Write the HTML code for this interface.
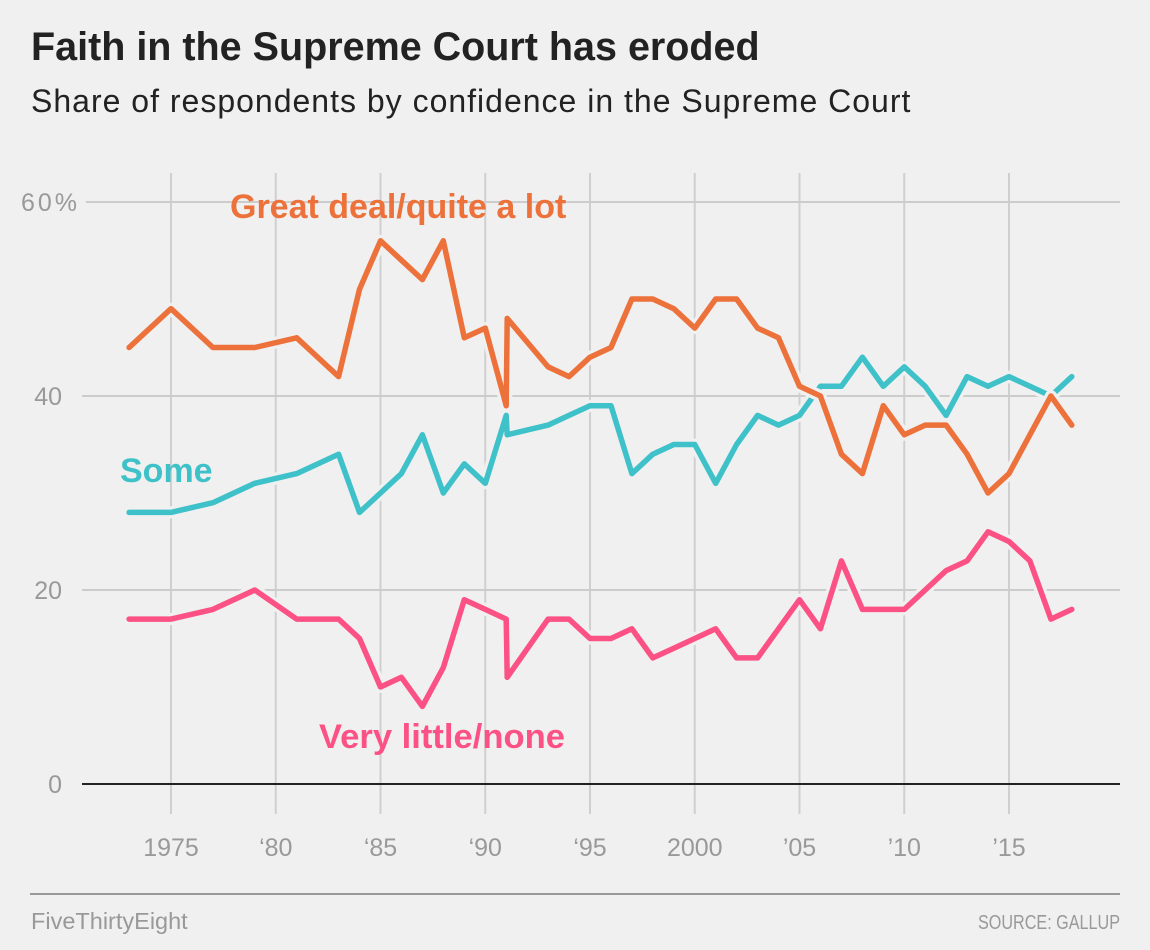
<!DOCTYPE html>
<html><head><meta charset="utf-8">
<style>
html,body{margin:0;padding:0;background:#f0f0f0;}
body{width:1150px;height:950px;position:relative;overflow:hidden;font-family:"Liberation Sans",sans-serif;}
.title{position:absolute;left:31px;top:25px;font-size:39.5px;font-weight:bold;color:#222;}
.sub{position:absolute;left:31px;top:83px;font-size:32px;letter-spacing:1px;color:#222;}
svg{position:absolute;left:0;top:0;}
.tick{font-family:"Liberation Sans Narrow","Liberation Sans",sans-serif;font-size:25px;fill:#999;}
</style></head><body>
<div class="title">Faith in the Supreme Court has eroded</div>
<div class="sub">Share of respondents by confidence in the Supreme Court</div>
<svg id="chart" width="1150" height="950"></svg>
<script>
const years=[1973,1975,1977,1979,1981,1983,1984,1985,1986,1987,1988,1989,1990,1991,1991.05,1993,1994,1995,1996,1997,1998,1999,2000,2001,2002,2003,2004,2005,2006,2007,2008,2009,2010,2011,2012,2013,2014,2015,2016,2017,2018];
const greatDeal=[45,49,45,45,46,42,51,56,54,52,56,46,47,39,48,43,42,44,45,50,50,49,47,50,50,47,46,41,40,34,32,39,36,37,37,34,30,32,36,40,37];
const some=[28,28,29,31,32,34,28,30,32,36,30,33,31,38,36,37,38,39,39,32,34,35,35,31,35,38,37,38,41,41,44,41,43,41,38,42,41,42,41,40,42];
const veryLittle=[17,17,18,20,17,17,15,10,11,8,12,19,18,17,11,17,17,15,15,16,13,14,15,16,13,13,16,19,16,23,18,18,18,20,22,23,26,25,23,17,18];
const yTicks=[0,20,40,60];
const yTickLabels=["0","20","40","60%"];
const xTicks=[1975,1980,1985,1990,1995,2000,2005,2010,2015];
const xTickLabels=["1975","\u201880","\u201885","\u201890","\u201895","2000","\u201905","\u201910","\u201915"];

const X=y=>171+(y-1975)*20.95;
const Y=v=>784-v*9.7;
const svg=document.getElementById('chart');
const NS='http://www.w3.org/2000/svg';
function mk(tag,attrs){const e=document.createElementNS(NS,tag);for(const k in attrs)e.setAttribute(k,attrs[k]);svg.appendChild(e);return e;}

xTicks.forEach((t,i)=>{
  const l=mk('line',{x1:X(t),x2:X(t),y1:173,y2:814,stroke:'#cfcfcf','stroke-width':2});
  
  
  const tx=mk('text',{x:X(t),y:856,'text-anchor':'middle',class:'tick'});
  tx.textContent=xTickLabels[i];
  
  
});
yTicks.forEach((t,i)=>{
  const l=mk('line',{x1:t===60?86:82,x2:1120,y1:Y(t),y2:Y(t),stroke:t===0?'#222':'#cccccc','stroke-width':2});
  
  
  const tx=mk('text',{x:t===60?80:62,y:Y(t)+9,'text-anchor':'end',class:'tick','letter-spacing':t===60?'3':'0'});
  tx.textContent=yTickLabels[i];
  
  
});
function series(vals,color,name){
  const d=vals.map((v,i)=>(i?'L':'M')+X(years[i]).toFixed(1)+' '+Y(v).toFixed(1)).join(' ');
  const h=mk('path',{d:d,fill:'none',stroke:'#f0f0f0','stroke-width':12,'stroke-linejoin':'round','stroke-linecap':'round'});
  
  
  const p=mk('path',{d:d,fill:'none',stroke:color,'stroke-width':5.5,'stroke-linejoin':'round','stroke-linecap':'round'});
  
  
}
series(veryLittle,'#fc5185','very-little');
series(some,'#3fc1c9','some');
series(greatDeal,'#ed713a','great-deal');

function label(txt,x,y,color,name){
  const t=mk('text',{x:x,y:y,fill:color,'font-size':34,'font-weight':'bold','font-family':'Liberation Sans, sans-serif'});
  t.textContent=txt;
  
  
  return t;
}
label('Great deal/quite a lot',230,218,'#ed713a','great-deal-label');
label('Some',120,482,'#3fc1c9','some-label');
label('Very little/none',319,748,'#fc5185','very-little-label').setAttribute('font-size','34.6');

const fl=mk('line',{x1:30,x2:1120,y1:894,y2:894,stroke:'#999','stroke-width':2});


const b=mk('text',{x:31,y:929,fill:'#999','font-size':23.5,'font-family':'Liberation Sans, sans-serif'});
b.textContent='FiveThirtyEight';


const s=mk('text',{x:978,y:929,fill:'#999','font-size':20,textLength:142,lengthAdjust:'spacingAndGlyphs','font-family':'Liberation Sans Narrow, Liberation Sans, sans-serif'});
s.textContent='SOURCE: GALLUP';


</script>
</body></html>
